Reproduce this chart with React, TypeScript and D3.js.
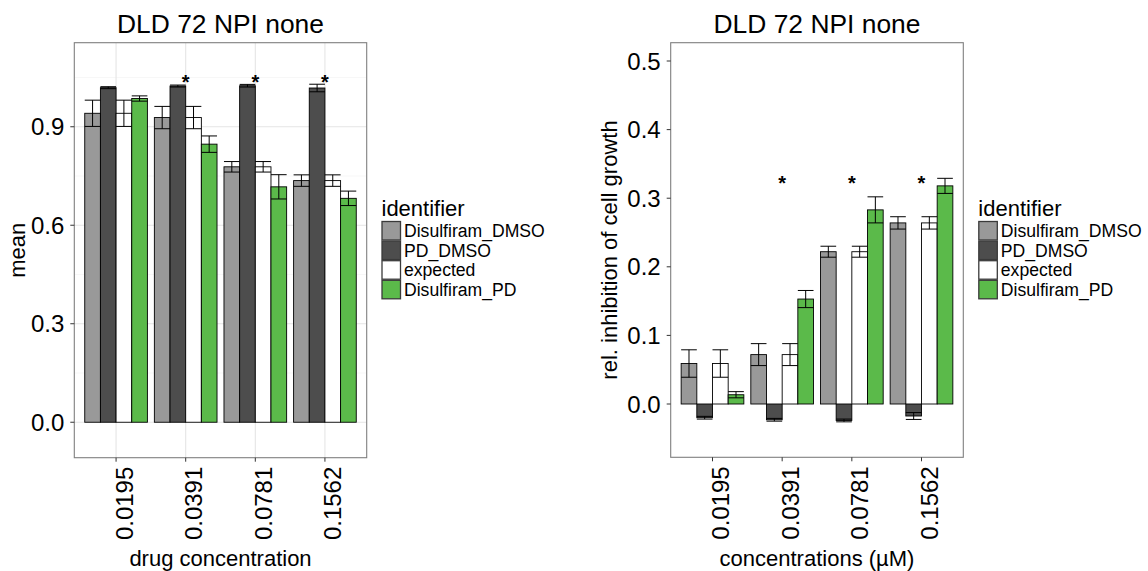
import React from "react";
import * as d3 from "d3";

const concentrations = ["0.0195", "0.0391", "0.0781", "0.1562"];
const identifiers = ["Disulfiram_DMSO", "PD_DMSO", "expected", "Disulfiram_PD"];
const fillColors = ["#999999", "#4D4D4D", "#FFFFFF", "#5BBA4A"];

// Left panel: mean
const meanDisDMSO = [0.941, 0.928, 0.778, 0.736];
const meanPD = [1.019, 1.024, 1.025, 1.018];
const meanExpected = [0.941, 0.928, 0.778, 0.736];
const meanDisPD = [0.986, 0.847, 0.717, 0.682];
const errDisDMSO = [0.04, 0.034, 0.016, 0.0175];
const errPD = [0.003, 0.003, 0.004, 0.0115];
const errExpected = [0.04, 0.034, 0.016, 0.0175];
const errDisPD = [0.008, 0.025, 0.037, 0.022];
const leftStars = [false, true, true, true];
const leftStarY = 1.05;
const leftTicks = [0, 0.3, 0.6, 0.9];
const leftMinor = [0.15, 0.45, 0.75, 1.05];

// Right panel: rel. inhibition
const inhDisDMSO = [0.059, 0.072, 0.222, 0.264];
const inhPD = [-0.02, -0.023, -0.024, -0.0175];
const inhExpected = [0.059, 0.072, 0.222, 0.264];
const inhDisPD = [0.0135, 0.153, 0.283, 0.318];
const ierrDisDMSO = [0.02, 0.016, 0.008, 0.009];
const ierrPD = [0.002, 0.002, 0.002, 0.005];
const ierrExpected = [0.02, 0.016, 0.008, 0.009];
const ierrDisPD = [0.0045, 0.0125, 0.019, 0.011];
const rightStars = [false, true, true, true];
const rightStarY = 0.328;
const rightTicks = [0, 0.1, 0.2, 0.3, 0.4, 0.5];

const FONT = "'Liberation Sans', Arial, Helvetica, sans-serif";

type PanelProps = {
  x0: number; x1: number; y0: number; y1: number;
  domain: [number, number];
  means: number[][];
  errs: number[][];
  stars: boolean[];
  starY: number;
  ticks: number[];
  minor: number[];
  grid: boolean;
  title: string;
  ylabel: string;
  xlabel: string;
  ylabelX: number;
  legendX: number;
};

function Panel(p: PanelProps) {
  const x = d3.scaleBand<string>().domain(concentrations).range([p.x0, p.x1]).paddingOuter(0.1).paddingInner(0);
  // ggplot discrete expansion: 0.6 units each side
  const unit = (p.x1 - p.x0) / (concentrations.length - 1 + 1.2);
  const cx = (c: string) => p.x0 + unit * (0.6 + concentrations.indexOf(c));
  const sub = d3.scaleBand<string>().domain(identifiers).range([-0.45 * unit, 0.45 * unit]);
  const y = d3.scaleLinear().domain(p.domain).range([p.y1, p.y0]);
  const fmt = d3.format(".1f");
  const pcx = (p.x0 + p.x1) / 2;
  const pcy = (p.y0 + p.y1) / 2;
  void x;
  return (
    <g>
      <rect x={p.x0} y={p.y0} width={p.x1 - p.x0} height={p.y1 - p.y0} fill="#FFFFFF" />
      {p.grid && (
        <g>
          {p.minor.map((t) => (
            <line key={"mi" + t} x1={p.x0} x2={p.x1} y1={y(t)} y2={y(t)} stroke="#F2F2F2" strokeWidth={0.6} />
          ))}
          {p.ticks.map((t) => (
            <line key={"ma" + t} x1={p.x0} x2={p.x1} y1={y(t)} y2={y(t)} stroke="#E5E5E5" strokeWidth={1.1} />
          ))}
          {concentrations.map((c) => (
            <line key={"v" + c} x1={cx(c)} x2={cx(c)} y1={p.y0} y2={p.y1} stroke="#E5E5E5" strokeWidth={1.1} />
          ))}
        </g>
      )}
      {concentrations.map((c, ci) =>
        identifiers.map((id, k) => {
          const v = p.means[k][ci];
          const bx = cx(c) + (sub(id) as number);
          return (
            <rect key={c + id} x={bx} width={sub.bandwidth()} y={Math.min(y(v), y(0))} height={Math.abs(y(v) - y(0))}
              fill={fillColors[k]} stroke="#000" strokeWidth={0.9} />
          );
        })
      )}
      {concentrations.map((c, ci) =>
        identifiers.map((id, k) => {
          const v = p.means[k][ci];
          const e = p.errs[k][ci];
          const bx = cx(c) + (sub(id) as number);
          const mid = bx + sub.bandwidth() / 2;
          const hw = sub.bandwidth() / 2;
          return (
            <g key={"e" + c + id} stroke="#000" strokeWidth={1}>
              <line x1={mid} x2={mid} y1={y(v + e)} y2={y(v - e)} />
              <line x1={mid - hw} x2={mid + hw} y1={y(v + e)} y2={y(v + e)} />
              <line x1={mid - hw} x2={mid + hw} y1={y(v - e)} y2={y(v - e)} />
            </g>
          );
        })
      )}
      {concentrations.map((c, ci) =>
        p.stars[ci] ? (
          <text key={"s" + c} x={cx(c)} y={y(p.starY) + 11} textAnchor="middle" fontSize={20} fontWeight="bold" fontFamily={FONT}>*</text>
        ) : null
      )}
      <rect x={p.x0} y={p.y0} width={p.x1 - p.x0} height={p.y1 - p.y0} fill="none" stroke="#7F7F7F" strokeWidth={1.1} />
      {p.ticks.map((t) => (
        <g key={"yt" + t}>
          <line x1={p.x0 - 4} x2={p.x0} y1={y(t)} y2={y(t)} stroke="#333" strokeWidth={1} />
          <text x={p.x0 - 10} y={y(t) + 8.5} textAnchor="end" fontSize={24} fontFamily={FONT} fill="#000">{fmt(t)}</text>
        </g>
      ))}
      {concentrations.map((c) => (
        <g key={"xt" + c}>
          <line x1={cx(c)} x2={cx(c)} y1={p.y1} y2={p.y1 + 4} stroke="#333" strokeWidth={1} />
          <text transform={`translate(${cx(c) + 16.5},${p.y1 + 9}) rotate(-90)`} textAnchor="end" fontSize={24} fontFamily={FONT} fill="#000">{c}</text>
        </g>
      ))}
      <text x={pcx} y={33} textAnchor="middle" fontSize={26.4} fontFamily={FONT} fill="#000">{p.title}</text>
      <text x={pcx} y={566} textAnchor="middle" fontSize={22} fontFamily={FONT} fill="#000">{p.xlabel}</text>
      <text transform={`translate(${p.ylabelX},${pcy}) rotate(-90)`} textAnchor="middle" fontSize={22} fontFamily={FONT} fill="#000">{p.ylabel}</text>
      <g>
        <text x={p.legendX} y={216} fontSize={22} fontFamily={FONT} fill="#000">identifier</text>
        {identifiers.map((id, k) => {
          const top = 221 + k * 19.6;
          return (
            <g key={"lg" + id}>
              <rect x={p.legendX + 0.5} y={top + 0.5} width={18.5} height={18.5} fill={fillColors[k]} stroke="#3A3A3A" strokeWidth={1.3} />
              <text x={p.legendX + 22.5} y={top + 9.8 + 6.2} fontSize={17.6} fontFamily={FONT} fill="#000">{id}</text>
            </g>
          );
        })}
      </g>
    </g>
  );
}

export default function App() {
  return (
    <svg width={1148} height={571} style={{ position: "absolute", left: 0, top: 0, background: "#fff" }}>
      <rect x={0} y={0} width={1148} height={571} fill="#fff" />
      <Panel x0={74.3} x1={366.7} y0={42.7} y1={457.7} domain={[-0.108, 1.156]}
        means={[meanDisDMSO, meanPD, meanExpected, meanDisPD]}
        errs={[errDisDMSO, errPD, errExpected, errDisPD]}
        stars={leftStars} starY={leftStarY} ticks={leftTicks} minor={leftMinor} grid={true}
        title="DLD 72 NPI none" ylabel="mean" xlabel="drug concentration" ylabelX={25} legendX={381.5} />
      <Panel x0={670.7} x1={963.3} y0={42.7} y1={457.3} domain={[-0.0777, 0.5267]}
        means={[inhDisDMSO, inhPD, inhExpected, inhDisPD]}
        errs={[ierrDisDMSO, ierrPD, ierrExpected, ierrDisPD]}
        stars={rightStars} starY={rightStarY} ticks={rightTicks} minor={[]} grid={false}
        title="DLD 72 NPI none" ylabel="rel. inhibition of cell growth" xlabel="concentrations (µM)" ylabelX={617} legendX={978.3} />
    </svg>
  );
}
